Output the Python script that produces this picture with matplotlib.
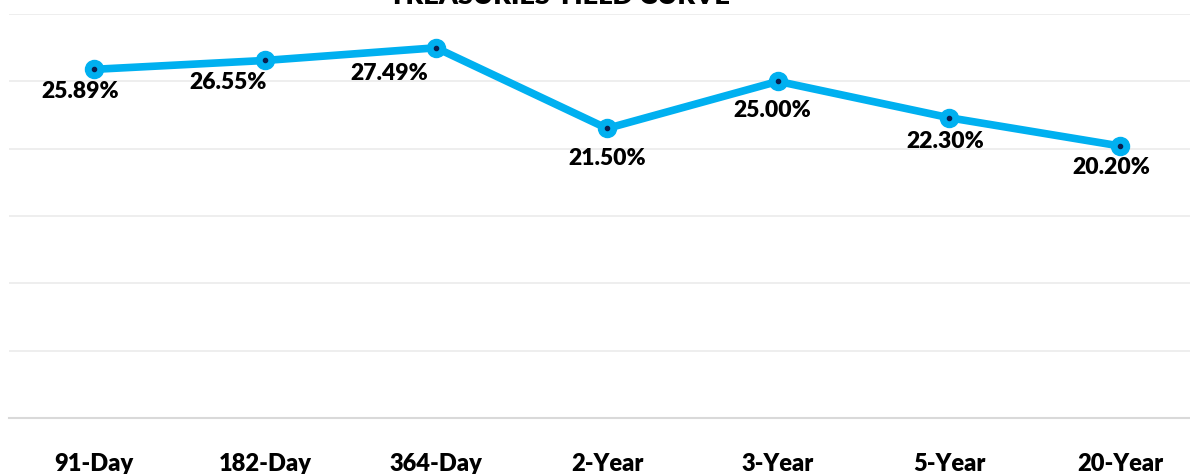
import matplotlib
matplotlib.use("Agg")
import matplotlib.pyplot as plt

categories = ["91-Day", "182-Day", "364-Day", "2-Year", "3-Year", "5-Year", "20-Year"]
yields = [25.89, 26.55, 27.49, 21.50, 25.00, 22.30, 20.20]
labels = ["25.89%", "26.55%", "27.49%", "21.50%", "25.00%", "22.30%", "20.20%"]
# label offsets in pixels (dx, dy) relative to the point
offsets = [(-14, -22), (-37, -22), (-47, -26), (0, -30), (-6, -29), (-4, -24), (-9, -22)]

W, H = 1190, 474
fig = plt.figure(figsize=(W / 100, H / 100), dpi=100)
left, right = 8.5, 1205.5
top, bottom = 14, 418
ax = fig.add_axes([left / W, 1 - bottom / H, (right - left) / W, (bottom - top) / H])

x = list(range(len(categories)))
ax.plot(x, yields, color="#00B0F0", lw=5.5, marker="o", ms=13,
        markerfacecolor="#00B0F0", markeredgecolor="#00B0F0", zorder=3, solid_joinstyle="round")
ax.plot(x, yields, ls="none", marker="o", ms=3, color="#0B1F4F", zorder=4)

ax.set_xlim(-0.5, len(categories) - 0.5)
ax.set_ylim(0, 30)
ax.set_yticks([0, 5, 10, 15, 20, 25, 30])
ax.grid(axis="y", color="#EBEBEB", lw=1.2)
ax.set_axisbelow(True)
for s in ["left", "right", "top"]:
    ax.spines[s].set_visible(False)
ax.spines["bottom"].set_color("#D9D9D9")
ax.spines["bottom"].set_linewidth(1.5)
ax.tick_params(axis="y", left=False, labelleft=False)
ax.tick_params(axis="x", bottom=False, pad=22)
ax.set_xticks(x)
ax.set_xticklabels(categories, fontfamily="Lato", fontweight="heavy", fontsize=17, color="#000000")

for xi, yi, lab, (dx, dy) in zip(x, yields, labels, offsets):
    ax.annotate(lab, (xi, yi), xytext=(dx * 0.72, dy * 0.72), textcoords="offset points",
                ha="center", va="center", fontfamily="Lato", fontweight="heavy",
                fontsize=16.5, color="#000000", zorder=5)

fig.text(559 / W, 1 - (-4) / H, "TREASURIES YIELD CURVE", ha="center", va="center",
         fontfamily="Lato", fontweight="heavy", fontsize=19.5, color="#000000")

fig.savefig("out.png", dpi=100)
